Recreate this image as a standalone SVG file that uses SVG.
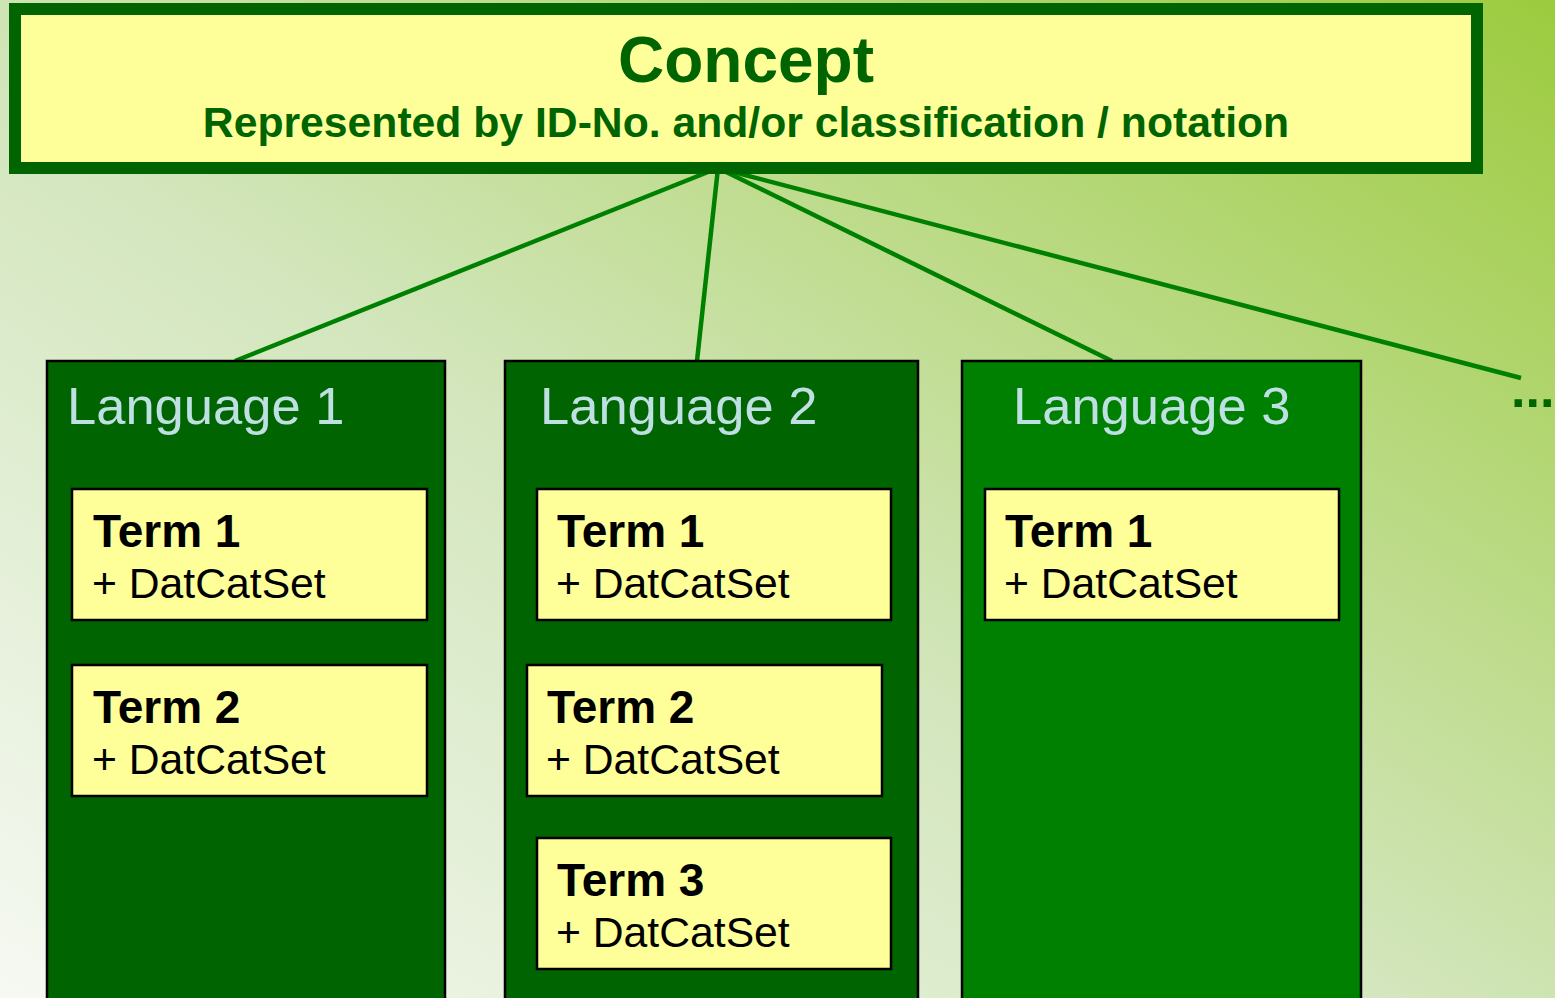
<svg xmlns="http://www.w3.org/2000/svg" width="1555" height="998" viewBox="0 0 1555 998">
<defs>
<linearGradient id="bg" x1="0" y1="1" x2="1" y2="0">
<stop offset="0" stop-color="#f6f9f3"/>
<stop offset="0.45" stop-color="#d3e6bd"/>
<stop offset="1" stop-color="#9ccb3e"/>
</linearGradient>
<style>
.lang{stroke:#000;stroke-width:2.5}
.langt{font-family:"Liberation Sans",Arial,sans-serif;font-size:52.5px;fill:#bfe0e3}
.term{fill:#ffff99;stroke:#000;stroke-width:2.5}
.tt{font-family:"Liberation Sans",Arial,sans-serif;font-size:46px;font-weight:bold;fill:#000}
.ts{font-family:"Liberation Sans",Arial,sans-serif;font-size:42.7px;fill:#000}
.con{stroke:#008000;stroke-width:4.5;fill:none}
</style>
</defs>
<rect width="1555" height="998" fill="url(#bg)"/>
<g id="connectors">
<line class="con" x1="718" y1="168" x2="235" y2="361"/>
<line class="con" x1="718" y1="168" x2="697" y2="361"/>
<line class="con" x1="718" y1="168" x2="1112" y2="361"/>
<line class="con" x1="718" y1="168" x2="1521" y2="378"/>
</g>
<g id="concept">
<rect x="15" y="9" width="1462" height="159" fill="#ffff99" stroke="#006400" stroke-width="12"/>
<text x="746" y="82" text-anchor="middle" font-family="Liberation Sans,Arial,sans-serif" font-size="64" font-weight="bold" fill="#006400">Concept</text>
<text x="746" y="137" text-anchor="middle" font-family="Liberation Sans,Arial,sans-serif" font-size="42.7" font-weight="bold" fill="#006400">Represented by ID-No. and/or classification / notation</text>
</g>
<g id="language1">
<rect class="lang" x="47" y="361" width="398" height="645" fill="#006400"/>
<text class="langt" x="67" y="424">Language 1</text>
</g>
<g id="language2">
<rect class="lang" x="505" y="361" width="413" height="645" fill="#006400"/>
<text class="langt" x="540" y="424">Language 2</text>
</g>
<g id="language3">
<rect class="lang" x="962" y="361" width="399" height="645" fill="#008000"/>
<text class="langt" x="1013" y="424">Language 3</text>
</g>
<g id="l1-term1">
<rect class="term" x="72" y="489" width="355" height="131"/>
<text class="tt" x="93" y="547">Term 1</text>
<text class="ts" x="92" y="598">+ DatCatSet</text>
</g>
<g id="l1-term2">
<rect class="term" x="72" y="665" width="355" height="131"/>
<text class="tt" x="93" y="723">Term 2</text>
<text class="ts" x="92" y="774">+ DatCatSet</text>
</g>
<g id="l2-term1">
<rect class="term" x="537" y="489" width="354" height="131"/>
<text class="tt" x="557" y="547">Term 1</text>
<text class="ts" x="556" y="598">+ DatCatSet</text>
</g>
<g id="l2-term2">
<rect class="term" x="527" y="665" width="355" height="131"/>
<text class="tt" x="547" y="723">Term 2</text>
<text class="ts" x="546" y="774">+ DatCatSet</text>
</g>
<g id="l2-term3">
<rect class="term" x="537" y="838" width="354" height="131"/>
<text class="tt" x="557" y="896">Term 3</text>
<text class="ts" x="556" y="947">+ DatCatSet</text>
</g>
<g id="l3-term1">
<rect class="term" x="985" y="489" width="354" height="131"/>
<text class="tt" x="1005" y="547">Term 1</text>
<text class="ts" x="1004" y="598">+ DatCatSet</text>
</g>
<g id="ellipsis">
<text x="1511" y="407" font-family="Liberation Sans,Arial,sans-serif" font-size="52" font-weight="bold" fill="#006400">...</text>
</g>
</svg>
